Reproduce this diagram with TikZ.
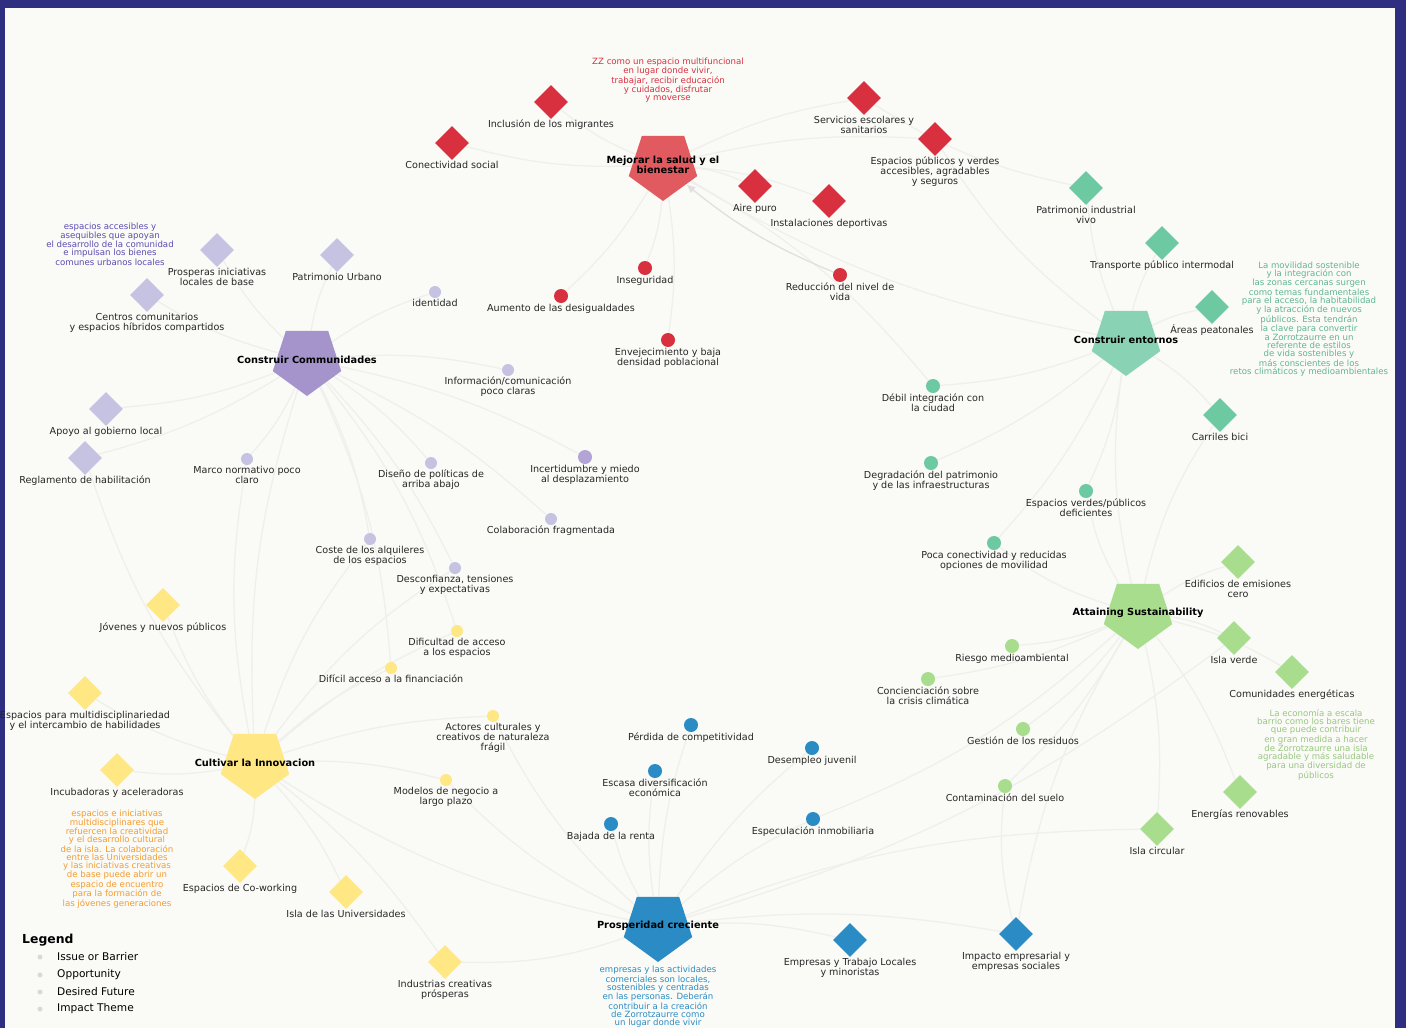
\documentclass[tikz,border=0pt]{standalone}
\usepackage{fontspec}
\setmainfont{DejaVu Sans}
\usepackage{xcolor}
\definecolor{cFrame}{HTML}{2E2F80}
\definecolor{cPanel}{HTML}{FAFAF7}
\definecolor{cEdge}{HTML}{EFEFEB}
\definecolor{cRed}{HTML}{D8303F}
\definecolor{cRedT}{HTML}{E05A60}
\definecolor{cPurp}{HTML}{C6C3E2}
\definecolor{cPurpT}{HTML}{A594CC}
\definecolor{cPurpD}{HTML}{5A4CB0}
\definecolor{cTeal}{HTML}{6CC9A2}
\definecolor{cTealT}{HTML}{8AD2B4}
\definecolor{cLime}{HTML}{A9DD8E}
\definecolor{cYel}{HTML}{FFE784}
\definecolor{cOrange}{HTML}{F59B2C}
\definecolor{cBlue}{HTML}{2B8CC5}
\usepackage{tikz}
\usetikzlibrary{positioning,arrows.meta,shapes.geometric,backgrounds}
\tikzset{
  theme/.style={regular polygon,regular polygon sides=5,shape border rotate=180,
    minimum size=72pt,inner sep=0pt},
  future/.style={diamond,minimum size=34pt,inner sep=0pt},
  issue/.style={circle,minimum size=14pt,inner sep=0pt},
  issue-s/.style={circle,minimum size=12pt,inner sep=0pt},
  lbl/.style={font=\fontsize{9.6}{10}\selectfont,align=center,inner sep=0.5pt,
    text=black!85},
  theme-lbl/.style={font=\bfseries\fontsize{9.8}{10}\selectfont,align=center,
    inner sep=0pt,text=black},
  desc/.style={font=\fontsize{8.6}{8}\selectfont,align=center,inner sep=0pt},
  edge/.style={draw=cEdge,line width=1.3pt},
  legend-dot/.style={circle,fill=black!15,minimum size=5pt,inner sep=0pt},
  legend-txt/.style={font=\fontsize{10.6}{12}\selectfont,anchor=west,inner sep=0pt},
}

\begin{document}
\begin{tikzpicture}[x=1pt,y=-1pt]
  \useasboundingbox (0,0) rectangle (1406,1028);
  \begin{scope}[on background layer]
    \fill[cFrame] (0,0) rectangle (1406,1028);
    \fill[cPanel] (5,8) rectangle (1395,1028);
  \end{scope}

  % impact themes
  \node[theme,fill=cRedT,label={[theme-lbl]center:Mejorar la salud y el\\bienestar}] (mej) at (663,165) {};
  \node[theme,fill=cPurpT,label={[theme-lbl]center:Construir Communidades}] (com) at (307,360) {};
  \node[theme,fill=cTealT,label={[theme-lbl]center:Construir entornos}] (ent) at (1126,340) {};
  \node[theme,fill=cLime,label={[theme-lbl]center:Attaining Sustainability}] (sus) at (1138,613) {};
  \node[theme,fill=cYel,label={[theme-lbl]center:Cultivar la Innovacion}] (inn) at (255,763) {};
  \node[theme,fill=cBlue,label={[theme-lbl]center:Prosperidad creciente}] (pro) at (658,926) {};

  % salud y bienestar
  \node[future,fill=cRed,label={[lbl]below:Inclusión de los migrantes}] (r-incl) at (551,102) {};
  \node[future,fill=cRed,label={[lbl]below:Conectividad social}] (r-conec) at (452,143) {};
  \node[future,fill=cRed,label={[lbl]below:Servicios escolares y\\sanitarios}] (r-serv) at (864,98) {};
  \node[future,fill=cRed,label={[lbl]below:Espacios públicos y verdes\\accesibles, agradables\\y seguros}] (r-espac) at (935,139) {};
  \node[future,fill=cRed,label={[lbl]below:Aire puro}] (r-aire) at (755,186) {};
  \node[future,fill=cRed,label={[lbl]below:Instalaciones deportivas}] (r-inst) at (829,201) {};
  \node[issue,fill=cRed,label={[lbl]below:Inseguridad}] (r-inseg) at (645,268) {};
  \node[issue,fill=cRed,label={[lbl]below:Aumento de las desigualdades}] (r-desig) at (561,296) {};
  \node[issue,fill=cRed,label={[lbl]below:Envejecimiento y baja\\densidad poblacional}] (r-envej) at (668,340) {};
  \node[issue,fill=cRed,label={[lbl]below:Reducción del nivel de\\vida}] (r-reduc) at (840,275) {};
  \node[desc,text=cRed] (r-desc) at (668,80) {ZZ como un espacio multifuncional\\en lugar donde vivir,\\trabajar, recibir educación\\y cuidados, disfrutar\\y moverse};

  % comunidades
  \node[future,fill=cPurp,label={[lbl]below:Prosperas iniciativas\\locales de base}] (p-prosp) at (217,250) {};
  \node[future,fill=cPurp,label={[lbl]below:Patrimonio Urbano}] (p-patr) at (337,255) {};
  \node[future,fill=cPurp,label={[lbl]below:Centros comunitarios\\y espacios híbridos compartidos}] (p-centr) at (147,295) {};
  \node[future,fill=cPurp,label={[lbl]below:Apoyo al gobierno local}] (p-apoyo) at (106,409) {};
  \node[future,fill=cPurp,label={[lbl]below:Reglamento de habilitación}] (p-regl) at (85,458) {};
  \node[issue-s,fill=cPurp,label={[lbl]below:identidad}] (p-ident) at (435,292) {};
  \node[issue-s,fill=cPurp,label={[lbl]below:Información/comunicación\\poco claras}] (p-info) at (508,370) {};
  \node[issue-s,fill=cPurp,label={[lbl]below:Marco normativo poco\\claro}] (p-marco) at (247,459) {};
  \node[issue-s,fill=cPurp,label={[lbl]below:Diseño de políticas de\\arriba abajo}] (p-dise) at (431,463) {};
  \node[issue,fill=cPurpT!85,label={[lbl]below:Incertidumbre y miedo\\al desplazamiento}] (p-incert) at (585,457) {};
  \node[issue-s,fill=cPurp,label={[lbl]below:Colaboración fragmentada}] (p-colab) at (551,519) {};
  \node[issue-s,fill=cPurp,label={[lbl]below:Coste de los alquileres\\de los espacios}] (p-coste) at (370,539) {};
  \node[issue-s,fill=cPurp,label={[lbl]below:Desconfianza, tensiones\\y expectativas}] (p-desconf) at (455,568) {};
  \node[desc,text=cPurpD] (p-desc) at (110,244) {espacios accesibles y\\asequibles que apoyan\\el desarrollo de la comunidad\\e impulsan los bienes\\comunes urbanos locales};

  % entornos
  \node[future,fill=cTeal,label={[lbl]below:Patrimonio industrial\\vivo}] (t-patr) at (1086,188) {};
  \node[future,fill=cTeal,label={[lbl]below:Transporte público intermodal}] (t-transp) at (1162,243) {};
  \node[future,fill=cTeal,label={[lbl]below:Áreas peatonales}] (t-areas) at (1212,307) {};
  \node[future,fill=cTeal,label={[lbl]below:Carriles bici}] (t-carr) at (1220,415) {};
  \node[issue,fill=cTeal,label={[lbl]below:Débil integración con\\la ciudad}] (t-debil) at (933,386) {};
  \node[issue,fill=cTeal,label={[lbl]below:Degradación del patrimonio\\y de las infraestructuras}] (t-degr) at (931,463) {};
  \node[issue,fill=cTeal,label={[lbl]below:Espacios verdes/públicos\\deficientes}] (t-verdes) at (1086,491) {};
  \node[issue,fill=cTeal,label={[lbl]below:Poca conectividad y reducidas\\opciones de movilidad}] (t-poca) at (994,543) {};
  \node[desc,text=cTeal!90!black] (t-desc) at (1309,319) {La movilidad sostenible\\y la integración con\\las zonas cercanas surgen\\como temas fundamentales\\para el acceso, la habitabilidad\\y la atracción de nuevos\\públicos. Esta tendrán\\la clave para convertir\\a Zorrotzaurre en un\\referente de estilos\\de vida sostenibles y\\más conscientes de los\\retos climáticos y medioambientales};

  % sostenibilidad
  \node[future,fill=cLime,label={[lbl]below:Edificios de emisiones\\cero}] (s-edif) at (1238,562) {};
  \node[future,fill=cLime,label={[lbl]below:Isla verde}] (s-isla) at (1234,638) {};
  \node[future,fill=cLime,label={[lbl]below:Comunidades energéticas}] (s-comun) at (1292,672) {};
  \node[future,fill=cLime,label={[lbl]below:Energías renovables}] (s-energ) at (1240,792) {};
  \node[future,fill=cLime,label={[lbl]below:Isla circular}] (s-circ) at (1157,829) {};
  \node[issue,fill=cLime,label={[lbl]below:Riesgo medioambiental}] (s-riesgo) at (1012,646) {};
  \node[issue,fill=cLime,label={[lbl]below:Concienciación sobre\\la crisis climática}] (s-conc) at (928,679) {};
  \node[issue,fill=cLime,label={[lbl]below:Gestión de los residuos}] (s-gest) at (1023,729) {};
  \node[issue,fill=cLime,label={[lbl]below:Contaminación del suelo}] (s-contam) at (1005,786) {};
  \node[desc,text=cLime!90!black] (s-desc) at (1316,745) {La economía a escala\\barrio como los bares tiene\\que puede contribuir\\en gran medida a hacer\\de Zorrotzaurre una isla\\agradable y más saludable\\para una diversidad de\\públicos};

  % innovacion
  \node[future,fill=cYel,label={[lbl]below:Jóvenes y nuevos públicos}] (y-jov) at (163,605) {};
  \node[future,fill=cYel,label={[lbl]below:Espacios para multidisciplinariedad\\y el intercambio de habilidades}] (y-multi) at (85,693) {};
  \node[future,fill=cYel,label={[lbl]below:Incubadoras y aceleradoras}] (y-incub) at (117,770) {};
  \node[future,fill=cYel,label={[lbl]below:Espacios de Co-working}] (y-cowork) at (240,866) {};
  \node[future,fill=cYel,label={[lbl]below:Isla de las Universidades}] (y-univ) at (346,892) {};
  \node[future,fill=cYel,label={[lbl]below:Industrias creativas\\prósperas}] (y-indus) at (445,962) {};
  \node[issue-s,fill=cYel,label={[lbl]below:Dificultad de acceso\\a los espacios}] (y-dific) at (457,631) {};
  \node[issue-s,fill=cYel,label={[lbl]below:Difícil acceso a la financiación}] (y-finan) at (391,668) {};
  \node[issue-s,fill=cYel,label={[lbl]below:Actores culturales y\\creativos de naturaleza\\frágil}] (y-actor) at (493,716) {};
  \node[issue-s,fill=cYel,label={[lbl]below:Modelos de negocio a\\largo plazo}] (y-model) at (446,780) {};
  \node[desc,text=cOrange] (y-desc) at (117,859) {espacios e iniciativas\\multidisciplinares que\\refuercen la creatividad\\y el desarrollo cultural\\de la isla. La colaboración\\entre las Universidades\\y las iniciativas creativas\\de base puede abrir un\\espacio de encuentro\\para la formación de\\las jóvenes generaciones};

  % prosperidad
  \node[future,fill=cBlue,label={[lbl]below:Empresas y Trabajo Locales\\y minoristas}] (b-empr) at (850,940) {};
  \node[future,fill=cBlue,label={[lbl]below:Impacto empresarial y\\empresas sociales}] (b-impac) at (1016,934) {};
  \node[issue,fill=cBlue,label={[lbl]below:Pérdida de competitividad}] (b-perd) at (691,725) {};
  \node[issue,fill=cBlue,label={[lbl]below:Desempleo juvenil}] (b-desemp) at (812,748) {};
  \node[issue,fill=cBlue,label={[lbl]below:Escasa diversificación\\económica}] (b-escasa) at (655,771) {};
  \node[issue,fill=cBlue,label={[lbl]below:Especulación inmobiliaria}] (b-espec) at (813,819) {};
  \node[issue,fill=cBlue,label={[lbl]below:Bajada de la renta}] (b-bajada) at (611,824) {};
  \node[desc,text=cBlue,anchor=north] (b-desc) at (658,966) {empresas y las actividades\\comerciales son locales,\\sostenibles y centradas\\en las personas. Deberán\\contribuir a la creación\\de Zorrotzaurre como\\un lugar donde vivir};

  % legend
  \node[font=\bfseries\fontsize{12.4}{14}\selectfont,anchor=west,inner sep=0pt] (leg) at (22,940) {Legend};
  \node[legend-dot] (leg-d1) at (40,957) {};
  \node[legend-dot] (leg-d2) at (40,975) {};
  \node[legend-dot] (leg-d3) at (40,992) {};
  \node[legend-dot] (leg-d4) at (40,1009) {};
  \node[legend-txt] (leg-t1) at (57,957) {Issue or Barrier};
  \node[legend-txt] (leg-t2) at (57,975) {Opportunity};
  \node[legend-txt] (leg-t3) at (57,992) {Desired Future};
  \node[legend-txt] (leg-t4) at (57,1009) {Impact Theme};

  \begin{scope}[on background layer]
    \foreach \a/\b in {mej/r-incl,mej/r-conec,mej/r-serv,mej/r-espac,mej/r-aire,mej/r-inst,
        mej/r-inseg,mej/r-desig,mej/r-envej,
        com/p-prosp,com/p-patr,com/p-centr,com/p-apoyo,com/p-regl,com/p-ident,com/p-info,
        com/p-marco,com/p-dise,com/p-incert,com/p-colab,com/p-coste,com/p-desconf,
        ent/t-patr,ent/t-transp,ent/t-areas,ent/t-carr,ent/t-debil,ent/t-degr,ent/t-verdes,ent/t-poca,
        sus/s-edif,sus/s-isla,sus/s-comun,sus/s-energ,sus/s-circ,sus/s-riesgo,sus/s-conc,
        sus/s-gest,sus/s-contam,
        inn/y-jov,inn/y-multi,inn/y-incub,inn/y-cowork,inn/y-univ,inn/y-indus,inn/y-dific,
        inn/y-finan,inn/y-actor,inn/y-model,
        pro/b-empr,pro/b-impac,pro/b-perd,pro/b-desemp,pro/b-escasa,pro/b-espec,pro/b-bajada}
      \draw[edge] (\a) to[bend left=8] (\b);
    % links between themes
    \foreach \a/\b in {mej/ent,r-espac/ent,r-serv/t-patr,t-debil/mej,com/inn,p-regl/inn,
        p-marco/inn,p-coste/inn,p-desconf/inn,y-dific/com,y-finan/com,inn/pro,y-actor/pro,
        y-model/pro,y-indus/pro,s-circ/pro,sus/b-impac,s-contam/b-impac,pro/s-isla,
        ent/sus,t-poca/sus,t-verdes/sus,t-carr/sus,b-espec/sus}
      \draw[edge] (\a) to[bend right=10] (\b);
    \draw[edge,draw=black!12,-{Latex[length=9pt,width=8pt]}] (r-reduc) to[bend left=8] (mej);
  \end{scope}
\end{tikzpicture}
\end{document}
